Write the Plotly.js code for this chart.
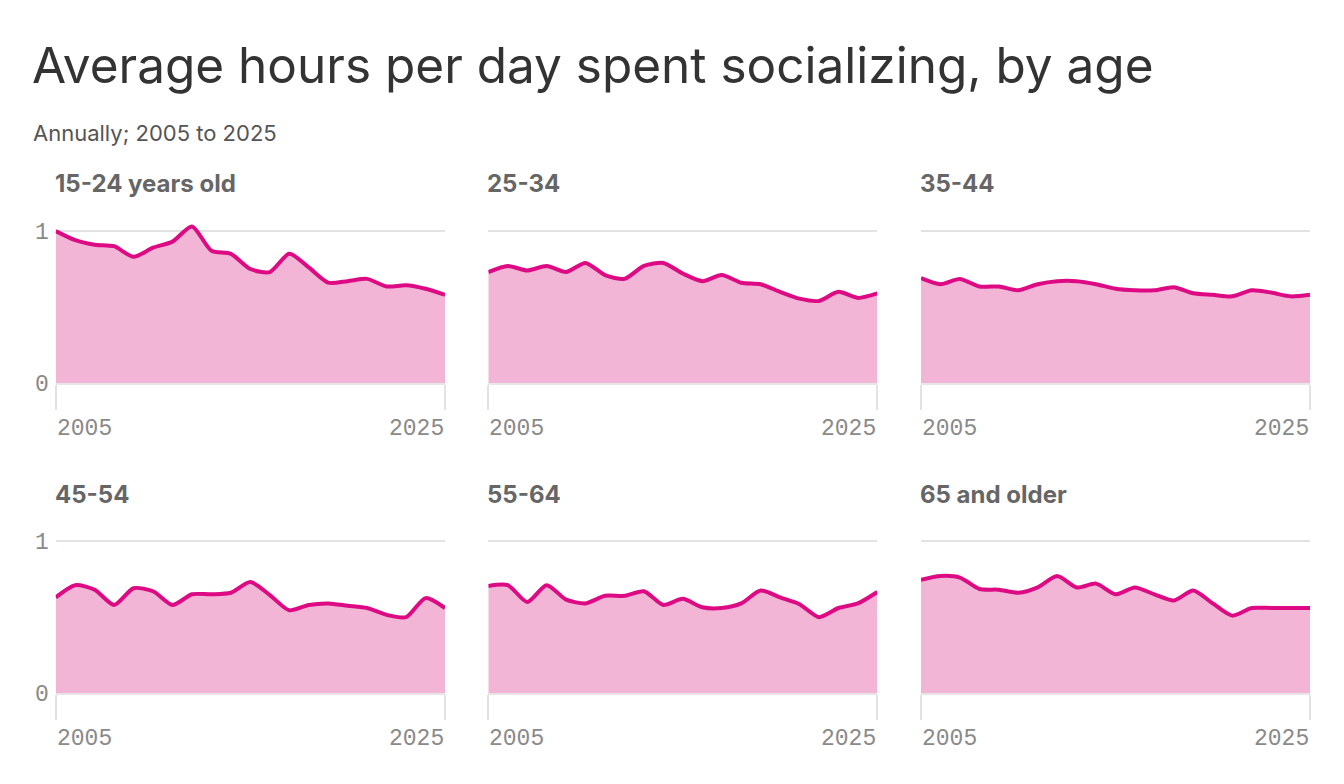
<!DOCTYPE html>
<html>
<head>
<meta charset="utf-8">
<script src="https://cdn.plot.ly/plotly-3.0.1.min.js"></script>
<style>
  html, body { margin: 0; padding: 0; background: #fff; }
  #chart { width: 1344px; height: 784px; }
</style>
</head>
<body>
<div id="chart"></div>
<script>
const years = [2005, 2006, 2007, 2008, 2009, 2010, 2011, 2012, 2013, 2014, 2015,
               2016, 2017, 2018, 2019, 2020, 2021, 2022, 2023, 2024, 2025];

const panelTitles = ["15-24 years old", "25-34", "35-44", "45-54", "55-64", "65 and older"];

const age15to24 = [1.00, 0.94, 0.91, 0.90, 0.83, 0.89, 0.93, 1.03, 0.87, 0.85, 0.75,
                   0.73, 0.85, 0.76, 0.66, 0.67, 0.685, 0.635, 0.643, 0.62, 0.58];
const age25to34 = [0.73, 0.77, 0.74, 0.77, 0.73, 0.79, 0.71, 0.685, 0.77, 0.79, 0.72,
                   0.67, 0.71, 0.66, 0.65, 0.60, 0.555, 0.54, 0.60, 0.56, 0.59];
const age35to44 = [0.69, 0.65, 0.685, 0.635, 0.635, 0.61, 0.65, 0.67, 0.67, 0.65, 0.62,
                   0.61, 0.61, 0.63, 0.59, 0.58, 0.57, 0.61, 0.595, 0.57, 0.58];
const age45to54 = [0.63, 0.71, 0.68, 0.58, 0.69, 0.67, 0.58, 0.65, 0.65, 0.66, 0.73,
                   0.645, 0.545, 0.58, 0.59, 0.575, 0.56, 0.515, 0.50, 0.625, 0.56];
const age55to64 = [0.705, 0.71, 0.60, 0.71, 0.615, 0.59, 0.64, 0.64, 0.67, 0.58, 0.62,
                   0.565, 0.56, 0.59, 0.675, 0.63, 0.585, 0.50, 0.56, 0.59, 0.665];
const age65plus = [0.745, 0.77, 0.76, 0.685, 0.68, 0.66, 0.695, 0.77, 0.695, 0.72, 0.65,
                   0.695, 0.65, 0.61, 0.675, 0.59, 0.51, 0.56, 0.56, 0.56, 0.56];

const xTickVals = [2005, 2025];
const xTickLabels = ["2005", "2025"];
const yTickVals = [0, 1];
const yTickLabels = ["0", "1"];

const seriesList = [age15to24, age25to34, age35to44, age45to54, age55to64, age65plus];

const W = 1344, H = 784;
const colX = [[55.7, 445], [488.3, 877.3], [921, 1310]];
const rowY = [[383, 231], [693.3, 541]]; // [y0 pixel, y1 pixel]
const yMax = 1.1;

const lineColor = "#DD0A84";
const fillColor = "#F2B5D6";
const gridColor = "#E2E2E2";
const tickFont = { family: "Liberation Mono, DejaVu Sans Mono, monospace", size: 23, color: "#8A8A8A" };
const sansFont = "Inter, 'Noto Sans', sans-serif";

const traces = [];
const layout = {
  width: W, height: H,
  margin: { l: 0, r: 0, t: 0, b: 0 },
  paper_bgcolor: "#fff",
  plot_bgcolor: "rgba(0,0,0,0)",
  showlegend: false,
  title: {
    text: "Average hours per day spent socializing, by age",
    x: 32 / W, xanchor: "left", xref: "paper",
    y: 1 - 66 / H, yanchor: "middle", yref: "paper",
    font: { family: sansFont, size: 49.5, color: "#333333" }
  },
  annotations: [
    {
      text: "Annually; 2005 to 2025",
      xref: "paper", yref: "paper", x: 31 / W, y: 1 - 133 / H,
      xanchor: "left", yanchor: "middle", showarrow: false,
      font: { family: sansFont, size: 22, color: "#555555" }
    }
  ]
};

seriesList.forEach((vals, i) => {
  const r = Math.floor(i / 3), c = i % 3;
  const n = i + 1;
  const xa = n === 1 ? "x" : "x" + n;
  const ya = n === 1 ? "y" : "y" + n;
  const xKey = n === 1 ? "xaxis" : "xaxis" + n;
  const yKey = n === 1 ? "yaxis" : "yaxis" + n;
  const pxPerUnit = rowY[r][0] - rowY[r][1];
  const topPx = rowY[r][0] - pxPerUnit * yMax;

  traces.push({
    x: years, y: vals, xaxis: xa, yaxis: ya,
    type: "scatter", mode: "lines",
    fill: "tozeroy", fillcolor: fillColor,
    line: { color: lineColor, width: 4, shape: "spline", smoothing: 0.7 },
    hoverinfo: "x+y"
  });

  layout[xKey] = {
    domain: [colX[c][0] / W, colX[c][1] / W],
    anchor: ya,
    range: [2005, 2025],
    showgrid: false, zeroline: false,
    showline: true, linecolor: "rgba(120,120,120,0.18)", linewidth: 2,
    ticks: "outside", ticklen: 25, tickwidth: 2, tickcolor: gridColor,
    tickvals: xTickVals, showticklabels: false,
    layer: "above traces",
    fixedrange: true
  };
  layout[yKey] = {
    domain: [1 - rowY[r][0] / H, 1 - topPx / H],
    anchor: xa,
    range: [0, yMax],
    showgrid: true, gridcolor: gridColor, gridwidth: 2,
    zeroline: false, showline: false,
    tickvals: yTickVals, ticktext: yTickLabels,
    showticklabels: c === 0,
    tickfont: tickFont,
    ticklabelstandoff: 6,
    fixedrange: true
  };

  // panel title
  layout.annotations.push({
    text: "<b>" + panelTitles[i] + "</b>",
    xref: xa + " domain", yref: ya, x: 0, y: 1, yshift: 47, xshift: -3,
    xanchor: "left", yanchor: "middle", showarrow: false,
    font: { family: sansFont, size: 24, color: "#666666" }
  });
  // x tick labels
  xTickLabels.forEach((lab, k) => {
    layout.annotations.push({
      text: lab, xref: xa, yref: ya, x: xTickVals[k], y: 0, yshift: -46,
      xshift: k === 0 ? -1 : 1,
      xanchor: k === 0 ? "left" : "right", yanchor: "middle", showarrow: false,
      font: tickFont
    });
  });
});

Plotly.newPlot("chart", traces, layout, { displayModeBar: false, staticPlot: true });
</script>
</body>
</html>
